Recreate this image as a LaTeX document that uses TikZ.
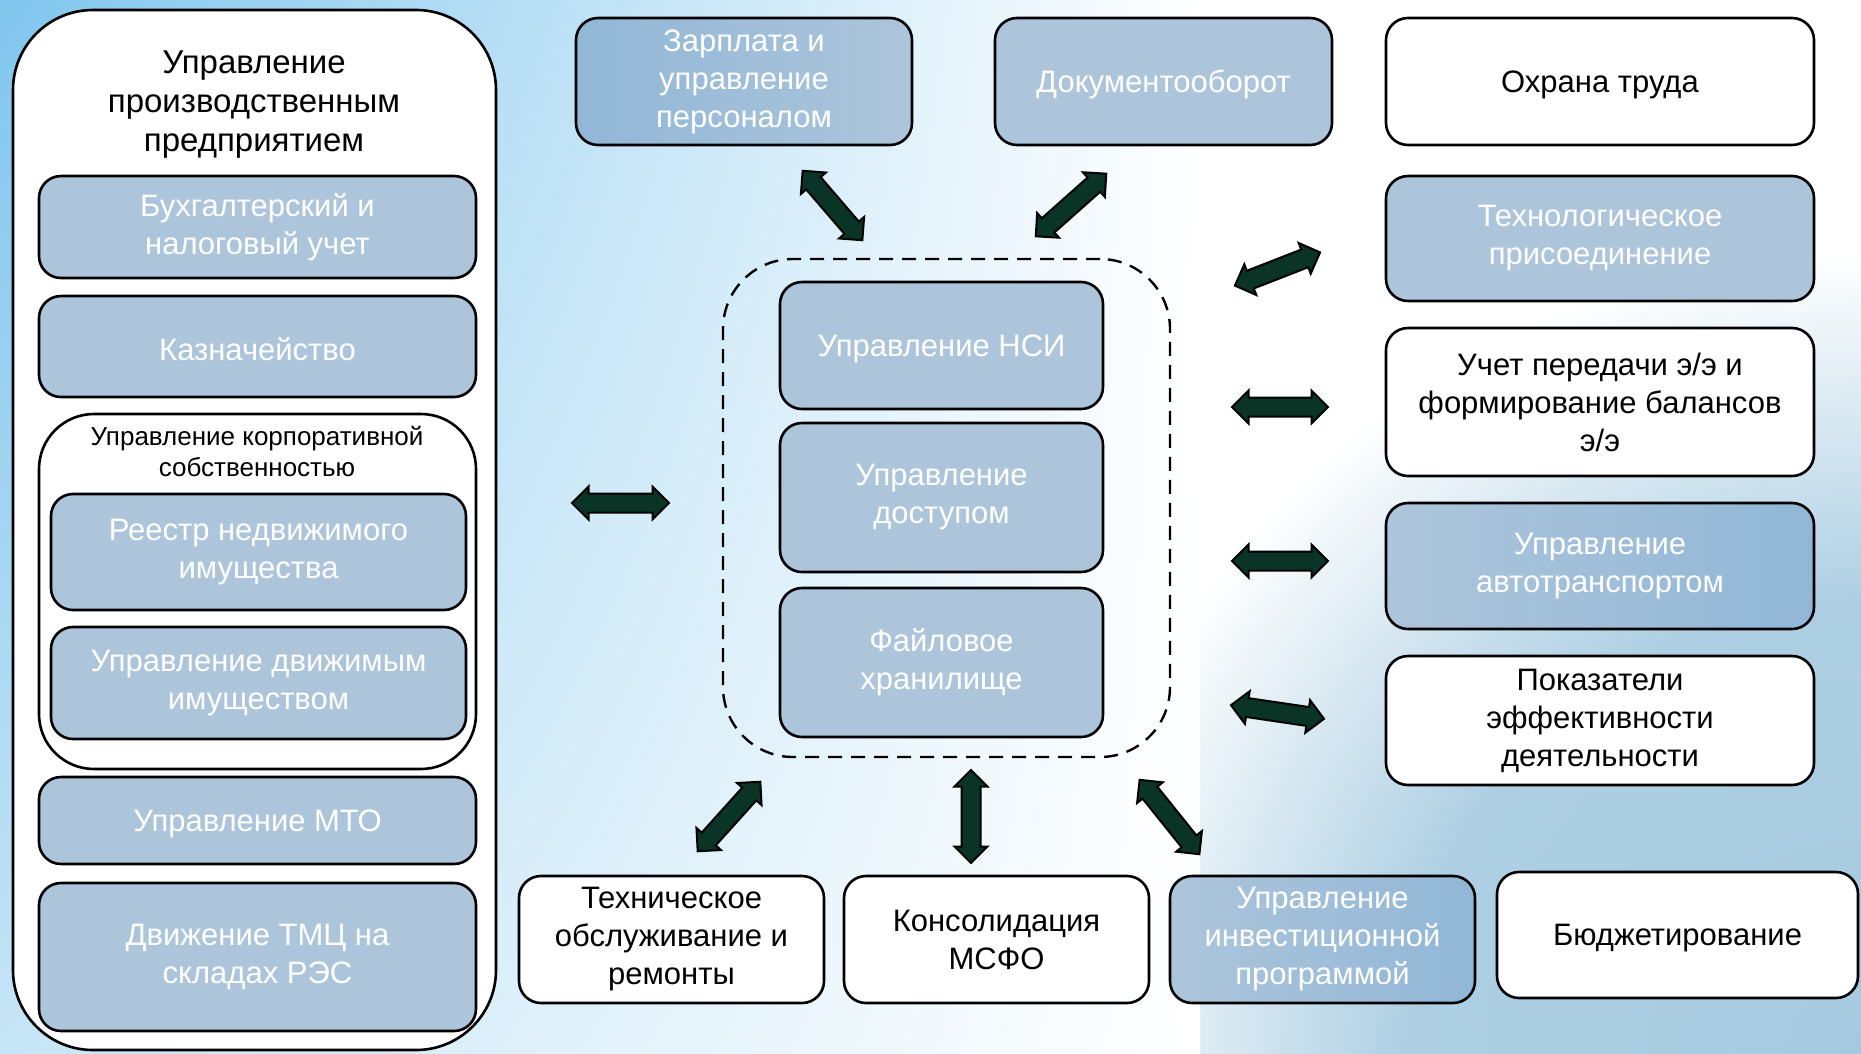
\documentclass[tikz,border=0pt]{standalone}
\usepackage{fontspec}
\setmainfont{Liberation Sans}
\usetikzlibrary{shapes.arrows,calc,shadings}
\definecolor{boxblue}{RGB}{173,197,219}
\definecolor{boxdeep}{RGB}{145,183,215}
\definecolor{arrowgreen}{RGB}{10,52,38}
\definecolor{bgsky}{RGB}{128,198,238}
\definecolor{bgsky2}{RGB}{198,229,246}
\definecolor{bgsea}{RGB}{165,202,224}
\pgfdeclareradialshading{seaglow}{\pgfpoint{0bp}{0bp}}{color(0bp)=(bgsea); color(450bp)=(bgsea!90!white);
  color(800bp)=(white); color(850bp)=(white)}
\tikzset{
  module/.style={draw=black, line width=2.6pt, rounded corners=22pt, align=center,
    inner sep=0pt, font=\fontsize{31}{38}\selectfont,
    execute at begin node=\rule{0pt}{#1}},
  module/.default=39pt,
  bluemod/.style={module=#1, fill=boxblue, text=white},
  bluemod/.default=39pt,
  whitemod/.style={module=#1, fill=white, text=black},
  whitemod/.default=39pt,
  frame/.style={draw=black, line width=2.6pt, fill=white, inner sep=0pt},
  dblarrow/.style={double arrow, fill=arrowgreen, draw=black, line width=2pt,
    inner xsep=0pt, inner ysep=8.5pt, double arrow head extend=7pt}
}
\newcommand{\linkarrow}[2]{\path let \p1=($(#2)-(#1)$), \n1={veclen(\x1,\y1)} in
  (#1) -- (#2) node[midway, sloped, dblarrow, minimum height=\n1-2pt] {};}
\begin{document}
\begin{tikzpicture}[x=1pt, y=-1pt]
\useasboundingbox (0,0) rectangle (1861,1053);
% background
\fill[white] (0,0) rectangle (1861,1053);
\begin{scope}
  \clip (0,0) rectangle (1861,1053);
  \node[inner sep=0pt] (glow) at (1861,1053) {\pgfuseshading{seaglow}};
\end{scope}
\shade[upper left=bgsky, upper right=white, lower left=bgsky2, lower right=white]
  (0,0) rectangle (1200,1053);

% left column
\node[frame, rounded corners=80pt, minimum width=483pt, minimum height=1040pt] (erp) at (254.5,530) {};
\node[font=\fontsize{33}{39}\selectfont, align=center] (erptitle) at (254,105)
  {Управление\\производственным\\предприятием};
\node[bluemod, minimum width=437pt, minimum height=102pt] (buh) at (257.5,227) {Бухгалтерский и\\налоговый учет};
\node[bluemod=28pt, minimum width=437pt, minimum height=101pt] (kazn) at (257.5,346.5) {Казначейство};
\node[frame, rounded corners=55pt, minimum width=437pt, minimum height=355pt] (corp) at (257.5,591.5) {};
\node[font=\fontsize{26}{31}\selectfont, align=center] (corptitle) at (257,451)
  {Управление корпоративной\\собственностью};
\node[bluemod, minimum width=415pt, minimum height=116pt] (reestr) at (258.5,552) {Реестр недвижимого\\имущества};
\node[bluemod, minimum width=415pt, minimum height=112pt] (dvizh) at (258.5,683) {Управление движимым\\имуществом};
\node[bluemod=28pt, minimum width=437pt, minimum height=87pt] (mto) at (257.5,820.5) {Управление МТО};
\node[bluemod, minimum width=437pt, minimum height=148pt] (tmc) at (257.5,957) {Движение ТМЦ на\\складах РЭС};

% top row
\node[bluemod, left color=boxdeep, right color=boxblue, minimum width=336pt, minimum height=127pt] (zarp) at (744,81.5)
  {Зарплата и\\управление\\персоналом};
\node[bluemod=28pt, minimum width=337pt, minimum height=127pt] (docs) at (1163.5,81.5) {Документооборот};
\node[whitemod=28pt, minimum width=428pt, minimum height=127pt] (ohrana) at (1600,81.5) {Охрана труда};

% right column
\node[bluemod, minimum width=428pt, minimum height=125pt] (tehpris) at (1600,238.5) {Технологическое\\присоединение};
\node[whitemod=34pt, minimum width=428pt, minimum height=148pt] (uchet) at (1600,402)
  {Учет передачи э/э и\\формирование балансов\\э/э};
\node[bluemod, left color=boxblue, right color=boxdeep, minimum width=428pt, minimum height=126pt] (avto) at (1600,566)
  {Управление\\автотранспортом};
\node[whitemod, minimum width=428pt, minimum height=129pt] (pokaz) at (1600,720.5)
  {Показатели\\эффективности\\деятельности};

% core platform
\node[draw=black, line width=2.4pt, dash pattern=on 14pt off 9pt, rounded corners=70pt,
  minimum width=447pt, minimum height=498pt] (core) at (946.5,508) {};
\node[bluemod=28pt, minimum width=323pt, minimum height=127pt] (nsi) at (941.5,345.5) {Управление НСИ};
\node[bluemod, minimum width=323pt, minimum height=149pt] (dostup) at (941.5,497.5) {Управление\\доступом};
\node[bluemod, minimum width=323pt, minimum height=149pt] (fileh) at (941.5,662.5) {Файловое\\хранилище};

% bottom row
\node[whitemod, minimum width=305pt, minimum height=127pt] (tehobs) at (671.5,939.5)
  {Техническое\\обслуживание и\\ремонты};
\node[whitemod, minimum width=305pt, minimum height=127pt] (konsol) at (996.5,939.5) {Консолидация\\МСФО};
\node[bluemod, left color=boxblue, right color=boxdeep, minimum width=305pt, minimum height=127pt] (invest) at (1322.5,939.5)
  {Управление\\инвестиционной\\программой};
\node[whitemod=28pt, minimum width=361pt, minimum height=126pt] (budget) at (1677.5,935) {Бюджетирование};

% arrows
\foreach \n/\x/\y in {zarp1/802/170, zarp2/863/241, docs1/1107/173, docs2/1035/237,
    tehp1/1234/286, tehp2/1321/252, uch1/1231/407, uch2/1329/407,
    avto1/1231/561, avto2/1329/561, pok1/1230/705, pok2/1325/719,
    erp1/571/503, erp2/670/503, tob1/697/852, tob2/761/781,
    kons1/971/769, kons2/971/864, inv1/1139/779, inv2/1200/855}
  \coordinate (\n) at (\x,\y);
\foreach \s/\t in {zarp1/zarp2, docs1/docs2, tehp1/tehp2, uch1/uch2, avto1/avto2,
    pok1/pok2, erp1/erp2, tob1/tob2, kons1/kons2, inv1/inv2}
  {\linkarrow{\s}{\t}}
\end{tikzpicture}
\end{document}
